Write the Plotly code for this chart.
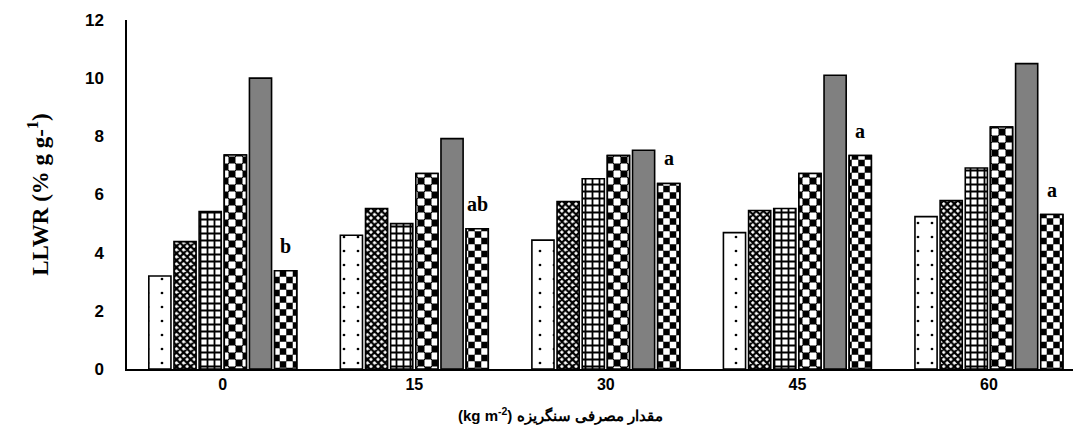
import plotly.graph_objects as go

categories = ["0", "15", "30", "45", "60"]
s1 = [3.2, 4.6, 4.43, 4.69, 5.24]
s2 = [4.38, 5.52, 5.76, 5.45, 5.79]
s3 = [5.41, 5.0, 6.54, 5.52, 6.91]
s4 = [7.36, 6.72, 7.34, 6.72, 8.32]
s5 = [10.0, 7.92, 7.52, 10.1, 10.5]
s6 = [3.38, 4.82, 6.38, 7.34, 5.31]
letters = ["b", "ab", "a", "a", "a"]

W = dict(fgcolor="black", bgcolor="white", fgopacity=1)
# (values, offsetgroup, fill colour, pattern, blend-overlay?)
layers = [
    (s1, "1", "white", dict(shape=".", size=14, solidity=0.03, **W), False),
    (s2, "2", "white", dict(shape="x", size=5, solidity=0.7, **W), False),
    (s3, "3", "white", dict(shape="+", size=7, solidity=0.45, **W), False),
    (s4, "4", "white", dict(shape="|", size=14, solidity=0.5, **W), False),
    (s4, "4", "black", dict(shape="-", size=14, solidity=0.5, fgcolor="white", bgcolor="black", fgopacity=1), True),
    (s5, "5", "#808080", None, False),
    (s6, "6", "white", dict(shape="|", size=13, solidity=0.5, **W), False),
    (s6, "6", "black", dict(shape="-", size=13, solidity=0.5, fgcolor="white", bgcolor="black", fgopacity=1), True),
]
n_groups = 6
bargap = 0.212

fig = go.Figure()
overlay_idx = []
for i, (vals, grp, col, pat, over) in enumerate(layers):
    marker = dict(color=col, line=dict(color="black", width=1.6))
    if pat is not None:
        marker["pattern"] = pat
    fig.add_trace(go.Bar(x=list(range(len(categories))), y=vals, marker=marker,
                         offsetgroup=grp, showlegend=False, hoverinfo="skip"))
    if over:
        overlay_idx.append(i)

off = (1 - bargap) * (-0.5 + (n_groups - 0.5) / n_groups)
for i, (lab, v) in enumerate(zip(letters, s6)):
    fig.add_annotation(x=i + off, y=v, xref="x", yref="y", text=lab, showarrow=False,
                       yanchor="bottom", yshift=12,
                       font=dict(family="Liberation Serif", size=20, color="black", weight="bold"))

fig.add_annotation(x=0.458, y=-0.132, xref="paper", yref="paper", xanchor="center", yanchor="middle",
                   text="<b>(kg m<sup>-2</sup>) مقدار مصرفی سنگریزه</b>", showarrow=False,
                   font=dict(family="Liberation Sans", size=15, color="black"))

fig.update_layout(
    width=1073, height=431,
    margin=dict(l=127, r=0, t=20, b=62),
    paper_bgcolor="white", plot_bgcolor="white",
    barmode="group", bargap=bargap, bargroupgap=0.12,
    font=dict(family="Liberation Sans", color="black"),
    xaxis=dict(range=[-0.5, 4.439], tickmode="array", automargin=False,
               tickvals=list(range(len(categories))), ticktext=categories,
               showline=True, linecolor="black", linewidth=1.5,
               showgrid=False, zeroline=False,
               tickfont=dict(family="Liberation Sans", size=16, color="black", weight="bold")),
    yaxis=dict(range=[0, 12], dtick=2, showline=True, linecolor="black", linewidth=1.5,
               showgrid=False, zeroline=False, ticks="outside", ticklen=18, automargin=False,
               tickcolor="rgba(0,0,0,0)",
               tickfont=dict(family="Liberation Sans", size=17, color="black", weight="bold"),
               title=dict(text="LLWR (% g g-<sup>1</sup>)",
                          font=dict(family="Liberation Serif", size=23, color="black", weight="bold"),
                          standoff=30)),
)

js = """
document.body.style.margin = '0';
var gd = document.getElementById('{plot_id}');
var idx = %s;
function blend() {
  var tr = gd.querySelectorAll('.barlayer .trace');
  idx.forEach(function (k) { if (tr[k]) { tr[k].style.mixBlendMode = 'difference'; } });
}
blend();
gd.on('plotly_afterplot', blend);
""" % (str(overlay_idx))

fig.write_html("out.html", post_script=js, config={"displayModeBar": False})
